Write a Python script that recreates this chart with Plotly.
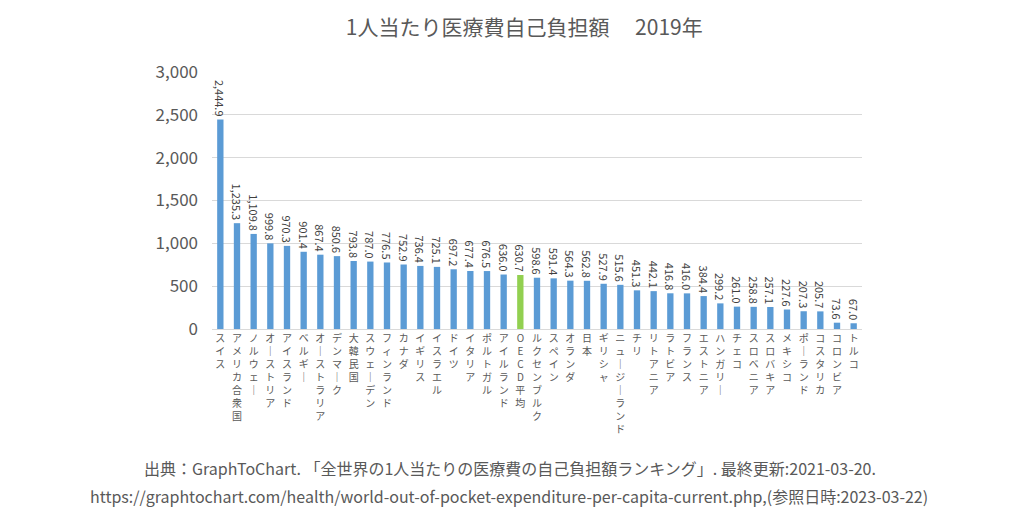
import plotly.graph_objects as go

countries = ["スイス", "アメリカ合衆国", "ノルウェー", "オーストリア", "アイスランド", "ベルギー",
             "オーストラリア", "デンマーク", "大韓民国", "スウェーデン", "フィンランド", "カナダ",
             "イギリス", "イスラエル", "ドイツ", "イタリア", "ポルトガル", "アイルランド", "OECD平均",
             "ルクセンブルク", "スペイン", "オランダ", "日本", "ギリシャ", "ニュージーランド", "チリ",
             "リトアニア", "ラトビア", "フランス", "エストニア", "ハンガリー", "チェコ", "スロベニア",
             "スロバキア", "メキシコ", "ポーランド", "コスタリカ", "コロンビア", "トルコ"]
values = [2444.9, 1235.3, 1109.8, 999.8, 970.3, 901.4, 867.4, 850.6, 793.8, 787.0, 776.5, 752.9,
          736.4, 725.1, 697.2, 677.4, 676.5, 636.0, 630.7, 598.6, 591.4, 564.3, 562.8, 527.9, 515.6,
          451.3, 442.1, 416.8, 416.0, 384.4, 299.2, 261.0, 258.8, 257.1, 227.6, 207.3, 205.7, 73.6, 67.0]
highlight = "OECD平均"
y_ticks = [0, 500, 1000, 1500, 2000, 2500, 3000]

FONT = "Noto Sans CJK JP"
BLUE = "#5B9BD5"
GREEN = "#92D050"


def vertical(s):
    out = []
    for ch in s:
        if ch == "ー":
            ch = "｜"
        out.append(ch)
    return "<br>".join(out)


colors = [GREEN if c == highlight else BLUE for c in countries]
x_idx = list(range(len(countries)))

fig = go.Figure(go.Bar(
    x=x_idx, y=values,
    marker=dict(color=colors, line=dict(width=0)),
    texttemplate="%{y:,.1f}",
    textposition="outside",
    textangle=90,
    constraintext="none",
    cliponaxis=False,
    textfont=dict(family=FONT, size=11, color="#404040"),
    hoverinfo="skip",
))

fig.update_layout(
    width=1018, height=531,
    margin=dict(l=212, r=156, t=72, b=202),
    paper_bgcolor="white", plot_bgcolor="white",
    bargap=0.62,
    showlegend=False,
    font=dict(family=FONT, color="#595959"),
    title=dict(text="1人当たり医療費自己負担額　 2019年", x=0.515, xanchor="center",
               y=0.948, yanchor="middle", xref="container", yref="container",
               font=dict(family=FONT, size=21, color="#595959")),
    xaxis=dict(
        tickmode="array", tickvals=x_idx, ticktext=[vertical(c) for c in countries],
        tickangle=0, tickfont=dict(family=FONT, size=10, color="#595959"),
        showgrid=False, showline=True, linecolor="#D9D9D9", linewidth=1,
        ticks="", range=[-0.5, len(countries) - 0.5], zeroline=False,
    ),
    yaxis=dict(
        range=[0, 3000], tickvals=y_ticks, tickformat=",d",
        tickfont=dict(family=FONT, size=17, color="#595959"),
        showgrid=True, gridcolor="#D9D9D9", gridwidth=1,
        zeroline=False, showline=False, ticks="", ticklabelstandoff=13,
    ),
)

fig.add_annotation(
    text="出典：GraphToChart. 「全世界の1人当たりの医療費の自己負担額ランキング」. 最終更新:2021-03-20.",
    xref="paper", yref="paper", x=0.459, y=-0.54, xanchor="center", yanchor="middle",
    showarrow=False, font=dict(family=FONT, size=16, color="#595959"))
fig.add_annotation(
    text="https://graphtochart.com/health/world-out-of-pocket-expenditure-per-capita-current.php,(参照日時:2023-03-22)",
    xref="paper", yref="paper", x=0.457, y=-0.65, xanchor="center", yanchor="middle",
    showarrow=False, font=dict(family=FONT, size=16, color="#595959"))

fig.write_html("out.html")
